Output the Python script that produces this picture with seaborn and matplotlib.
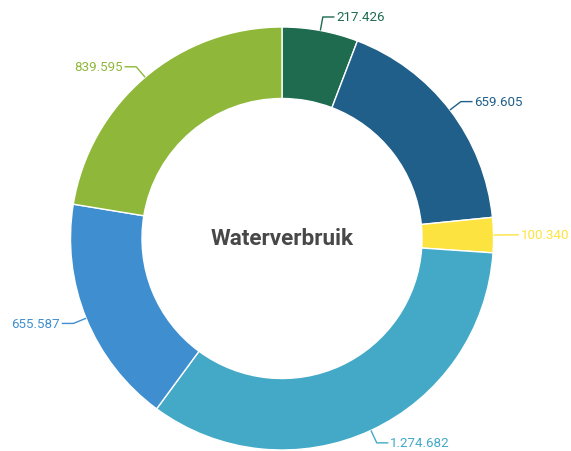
import numpy as np
import matplotlib
matplotlib.use("Agg")
import matplotlib.pyplot as plt
import seaborn as sns

# Values in the order they appear clockwise from 12 o'clock
labels = ["217.426", "659.605", "100.340", "1.274.682", "655.587", "839.595"]
values = [217426, 659605, 100340, 1274682, 655587, 839595]
colors = ["#1e6b50", "#1f5f8a", "#fde33f", "#43a9c7", "#3f8fd0", "#8fb83a"]
label_colors = ["#1e6b50", "#1f5f8a", "#fde33f", "#43a9c7", "#3f8fd0", "#8fb83a"]
center_title = "Waterverbruik"

sns.set_style("white")
plt.rcParams["font.family"] = ["Roboto", "DejaVu Sans"]

W, H = 571, 452
cx, cy, R = 282, 239.5, 211.5

fig = plt.figure(figsize=(W / 100, H / 100), dpi=100)
ax = fig.add_axes([0, 0, 1, 1])

wedges, _ = ax.pie(values, colors=colors, startangle=90, counterclock=False,
                   radius=1, wedgeprops=dict(width=0.338, edgecolor="white", linewidth=1))

ax.set_xlim(-cx / R, (W - cx) / R)
ax.set_ylim(-(H - cy) / R, cy / R)
ax.set_aspect("equal")
ax.axis("off")

# leader lines with an elbow, then a short horizontal stub to the label
for w, lab, c in zip(wedges, labels, label_colors):
    ang = np.deg2rad((w.theta1 + w.theta2) / 2)
    x0, y0 = np.cos(ang), np.sin(ang)
    x1, y1 = 1.065 * x0, 1.065 * y0
    side = 1 if x0 >= 0 else -1
    x2 = x1 + side * 0.055
    ax.plot([x0, x1, x2], [y0, y1, y1], color=c, lw=1, solid_capstyle="butt")
    ax.text(x2 + side * 0.008, y1, lab, color=c, fontsize=9.6,
            ha="left" if side > 0 else "right", va="center")

ax.text(0, 0, center_title, ha="center", va="center", fontsize=16.2,
        fontweight="bold", color="#484848")

fig.savefig("out.png", dpi=100)
